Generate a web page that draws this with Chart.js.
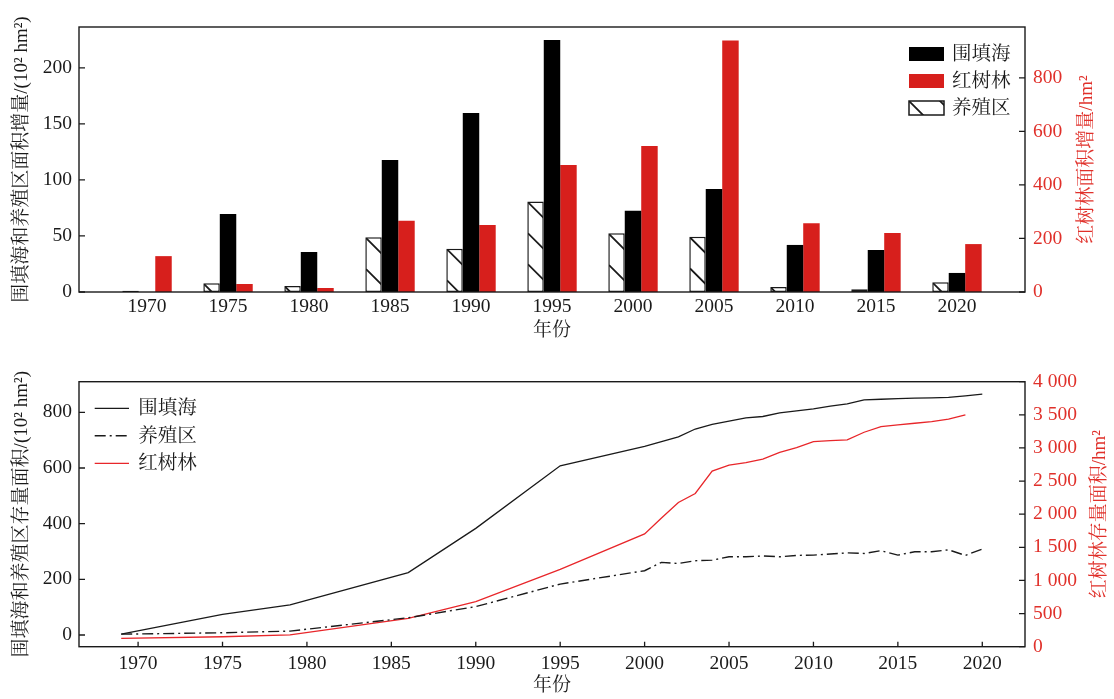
<!DOCTYPE html>
<html>
<head>
<meta charset="utf-8">
<script src="https://cdn.jsdelivr.net/npm/chart.js@4.4.1/dist/chart.umd.min.js"></script>
<style>
  html, body { margin: 0; padding: 0; background: #fff; }
  #wrap { position: relative; width: 1114px; height: 699px; }
  #gainChart { position: absolute; left: 0; top: 0; }
  #stockChart { position: absolute; left: 0; top: 345px; }
</style>
</head>
<body>
<div id="wrap">
  <canvas id="gainChart" width="1114" height="345"></canvas>
  <canvas id="stockChart" width="1114" height="354"></canvas>
</div>
<script>
// ---- 面积增量 (每五年) ----
const barYears     = [1970, 1975, 1980, 1985, 1990, 1995, 2000, 2005, 2010, 2015, 2020];
const reclaimGain  = [0, 69.6, 35.7, 117.9, 159.8, 225, 72.5, 92, 42, 37.5, 17];      // 10^2 hm2
const aquaGain     = [1.2, 7.7, 5.4, 48.8, 38.7, 80.7, 52.4, 49.4, 4.5, 2.4, 8.6];    // 10^2 hm2
const mangroveGain = [134, 30, 15, 266, 250, 474, 545, 940, 257, 220, 179];           // hm2

// ---- 存量面积 ----
const stockYears    = [1969, 1975, 1979, 1986, 1990, 1995, 2000, 2001, 2002, 2003, 2004, 2005, 2006,
                       2007, 2008, 2009, 2010, 2011, 2012, 2013, 2014, 2015, 2016, 2017, 2018, 2019, 2020];
const reclaimStock  = [3, 74, 108, 224, 383, 608, 678, 695, 712, 740, 757, 768, 780,
                       785, 798, 805, 812, 822, 830, 845, 847, 849, 851, 852, 854, 859, 865];
const aquaStock     = [3, 8, 14, 62, 102, 183, 231, 261, 257, 267, 269, 281, 281,
                       284, 281, 286, 287, 291, 295, 293, 303, 287, 299, 299, 306, 286, 309];
const mangroveYears = [1969, 1975, 1979, 1986, 1990, 1995, 2000, 2001, 2002, 2003, 2004, 2005, 2006,
                       2007, 2008, 2009, 2010, 2011, 2012, 2013, 2014, 2015, 2016, 2017, 2018, 2019];
const mangroveStock = [126, 150, 177, 429, 682, 1167, 1702, 1944, 2177, 2313, 2651, 2742, 2777,
                       2833, 2934, 3005, 3096, 3110, 3121, 3237, 3323, 3348, 3373, 3398, 3434, 3500];

// ---- 刻度 ----
const gainLeftTicks   = [0, 50, 100, 150, 200];
const gainRightTicks  = [0, 200, 400, 600, 800];
const stockYearTicks  = [1970, 1975, 1980, 1985, 1990, 1995, 2000, 2005, 2010, 2015, 2020];
const stockLeftTicks  = [0, 200, 400, 600, 800];
const stockRightTicks = [0, 500, 1000, 1500, 2000, 2500, 3000, 3500, 4000];

const FONT = "'Liberation Serif', 'Noto Serif CJK SC', 'Noto Sans CJK SC', serif";
const INK = '#1a1a1a';
const RED = '#d71f1c';
const RED_TEXT = '#e0302a';
const RED_LINE = '#e8262a';
const TICK_FONT = { family: FONT, size: 19.5 };

const pts = (xs, ys) => xs.map((x, i) => ({ x: x, y: ys[i] }));
const useTicks = values => scale => { scale.ticks = values.map(v => ({ value: v })); };
const plain = v => String(v);
const spaced = v => v >= 1000 ? Math.floor(v / 1000) + ' ' + String(v % 1000).padStart(3, '0') : String(v);

function axis(extra) {
  return Object.assign({
    grid: { display: false, drawTicks: false },
    border: { display: false }
  }, extra);
}

// frame box, inward tick marks and axis titles
const framePlugin = {
  id: 'frame',
  afterDraw(chart, args, opts) {
    const { ctx, chartArea: a } = chart;
    ctx.save();
    ctx.strokeStyle = INK;
    ctx.lineWidth = 1.4;
    ctx.strokeRect(a.left, a.top, a.right - a.left, a.bottom - a.top);
    ctx.lineWidth = 1.3;
    for (const id of Object.keys(chart.scales)) {
      const s = chart.scales[id];
      const len = (opts.tickLen || {})[id];
      if (!len) continue;
      ctx.beginPath();
      s.ticks.forEach(t => {
        const p = s.getPixelForValue(t.value);
        if (s.axis === 'x') { ctx.moveTo(p, a.bottom); ctx.lineTo(p, a.bottom - len); }
        else if (s.position === 'left') { ctx.moveTo(a.left, p); ctx.lineTo(a.left + len, p); }
        else { ctx.moveTo(a.right, p); ctx.lineTo(a.right - len, p); }
      });
      ctx.stroke();
    }
    ctx.font = '19px ' + FONT;
    ctx.textAlign = 'center';
    ctx.textBaseline = 'middle';
    const midY = (a.top + a.bottom) / 2;
    const midX = (a.left + a.right) / 2;
    (opts.titles || []).forEach(t => {
      ctx.fillStyle = t.color;
      ctx.save();
      if (t.vertical) {
        ctx.translate(t.x, midY);
        ctx.rotate(-Math.PI / 2);
        ctx.fillText(t.text, 0, 0);
      } else {
        ctx.fillText(t.text, midX, t.y);
      }
      ctx.restore();
    });
    ctx.restore();
  }
};

function drawHatch(ctx, left, top, right, bottom, step) {
  ctx.save();
  ctx.beginPath();
  ctx.rect(left, top, right - left, bottom - top);
  ctx.clip();
  ctx.strokeStyle = INK;
  ctx.lineWidth = 1.8;
  ctx.beginPath();
  const span = Math.max(right - left, bottom - top) + step;
  for (let k = -Math.ceil((right - left) / step); k * step < bottom - top; k++) {
    const y0 = top + k * step;
    ctx.moveTo(left, y0);
    ctx.lineTo(left + span, y0 + span);
  }
  ctx.stroke();
  ctx.restore();
}

// diagonal hatching inside the 养殖区 bars
const hatchPlugin = {
  id: 'hatch',
  afterDatasetsDraw(chart) {
    const { ctx } = chart;
    chart.data.datasets.forEach((ds, i) => {
      if (!ds.hatch) return;
      chart.getDatasetMeta(i).data.forEach(el => {
        const h = el.base - el.y;
        if (h < 2) return;
        const l = el.x - el.width / 2, r = el.x + el.width / 2;
        drawHatch(ctx, l + 0.75, el.y + 0.75, r - 0.75, el.base, 31);
      });
    });
  }
};

// legend for the bar panel
const barLegendPlugin = {
  id: 'barLegend',
  afterDraw(chart, args, opts) {
    const { ctx } = chart;
    ctx.save();
    ctx.font = '19.5px ' + FONT;
    ctx.textBaseline = 'middle';
    ctx.textAlign = 'left';
    opts.order.forEach((di, row) => {
      const ds = chart.data.datasets[di];
      const cy = opts.y + row * opts.dy;
      const x = opts.x, w = opts.w, h = opts.h, top = cy - h / 2;
      ctx.fillStyle = ds.backgroundColor;
      ctx.fillRect(x, top, w, h);
      if (ds.hatch) {
        drawHatch(ctx, x, top, x + w, top + h, 31);
        ctx.strokeStyle = INK;
        ctx.lineWidth = 1.5;
        ctx.strokeRect(x, top, w, h);
      }
      ctx.fillStyle = INK;
      ctx.fillText(ds.label, opts.textX, cy + 1);
    });
    ctx.restore();
  }
};

// legend for the line panel
const lineLegendPlugin = {
  id: 'lineLegend',
  afterDraw(chart, args, opts) {
    const { ctx } = chart;
    ctx.save();
    ctx.font = '19.5px ' + FONT;
    ctx.textBaseline = 'middle';
    ctx.textAlign = 'left';
    chart.data.datasets.forEach((ds, row) => {
      const cy = opts.y + row * opts.dy;
      ctx.strokeStyle = ds.borderColor;
      ctx.lineWidth = ds.borderWidth;
      ctx.setLineDash(ds.borderDash || []);
      ctx.beginPath();
      ctx.moveTo(opts.x0, cy);
      ctx.lineTo(opts.x1, cy);
      ctx.stroke();
      ctx.setLineDash([]);
      ctx.fillStyle = INK;
      ctx.fillText(ds.label, opts.textX, cy + 1);
    });
    ctx.restore();
  }
};

new Chart(document.getElementById('gainChart'), {
  type: 'bar',
  data: {
    datasets: [
      { label: '养殖区', data: pts(barYears, aquaGain), backgroundColor: '#ffffff', borderColor: INK,
        borderWidth: 1.5, borderSkipped: false, yAxisID: 'y', hatch: true },
      { label: '围填海', data: pts(barYears, reclaimGain), backgroundColor: '#000000', borderWidth: 0, yAxisID: 'y' },
      { label: '红树林', data: pts(barYears, mangroveGain), backgroundColor: RED, borderWidth: 0, yAxisID: 'y1' }
    ]
  },
  options: {
    responsive: false,
    animation: false,
    categoryPercentage: 0.61,
    barPercentage: 1,
    layout: { padding: { top: 27, left: 0, right: 0, bottom: 0 } },
    plugins: {
      legend: { display: false },
      tooltip: { enabled: false },
      frame: {
        tickLen: { y: 6, y1: 6 },
        titles: [
          { text: '围填海和养殖区面积增量/(10² hm²)', vertical: true, x: 22, color: INK },
          { text: '红树林面积增量/hm²', vertical: true, x: 1087, color: RED_TEXT },
          { text: '年份', y: 331, color: INK }
        ]
      },
      barLegend: { order: [1, 2, 0], x: 909, y: 54, dy: 27, w: 35, h: 14, textX: 952 }
    },
    scales: {
      x: axis({
        type: 'linear', min: 1965.8, max: 2024.2, offset: false,
        afterBuildTicks: useTicks(barYears),
        afterFit: s => { s.height = 53; },
        ticks: { font: TICK_FONT, color: INK, padding: 3.5, maxRotation: 0, autoSkip: false, callback: plain }
      }),
      y: axis({
        position: 'left', min: 0, max: 236.5,
        afterBuildTicks: useTicks(gainLeftTicks),
        afterFit: s => { s.width = 79; },
        ticks: { font: TICK_FONT, color: INK, padding: 7, callback: plain }
      }),
      y1: axis({
        position: 'right', min: 0, max: 990,
        afterBuildTicks: useTicks(gainRightTicks),
        afterFit: s => { s.width = 89; },
        ticks: { font: TICK_FONT, color: RED_TEXT, padding: 8, callback: plain }
      })
    }
  },
  plugins: [hatchPlugin, framePlugin, barLegendPlugin]
});

new Chart(document.getElementById('stockChart'), {
  type: 'line',
  data: {
    datasets: [
      { label: '围填海', data: pts(stockYears, reclaimStock), borderColor: INK, borderWidth: 1.3, yAxisID: 'y' },
      { label: '养殖区', data: pts(stockYears, aquaStock), borderColor: INK, borderWidth: 1.4,
        borderDash: [11, 4, 2, 4], yAxisID: 'y' },
      { label: '红树林', data: pts(mangroveYears, mangroveStock), borderColor: RED_LINE, borderWidth: 1.3, yAxisID: 'y1' }
    ]
  },
  options: {
    responsive: false,
    animation: false,
    elements: { point: { radius: 0 }, line: { tension: 0, fill: false } },
    layout: { padding: { top: 36.7, left: 0, right: 0, bottom: 0 } },
    plugins: {
      legend: { display: false },
      tooltip: { enabled: false },
      frame: {
        tickLen: { x: 5, y: 6, y1: 6 },
        titles: [
          { text: '围填海和养殖区存量面积/(10² hm²)', vertical: true, x: 22, color: INK },
          { text: '红树林存量面积/hm²', vertical: true, x: 1100, color: RED_TEXT },
          { text: '年份', y: 341.5, color: INK }
        ]
      },
      lineLegend: { x0: 94.7, x1: 129, textX: 138.3, y: 63.3, dy: 27.5 }
    },
    scales: {
      x: axis({
        type: 'linear', min: 1966.5, max: 2022.53,
        afterBuildTicks: useTicks(stockYearTicks),
        afterFit: s => { s.height = 52.3; },
        ticks: { font: TICK_FONT, color: INK, padding: 5.5, maxRotation: 0, autoSkip: false, callback: plain }
      }),
      y: axis({
        position: 'left', min: -42, max: 910,
        afterBuildTicks: useTicks(stockLeftTicks),
        afterFit: s => { s.width = 79; },
        ticks: { font: TICK_FONT, color: INK, padding: 7, callback: plain }
      }),
      y1: axis({
        position: 'right', min: 0, max: 4000,
        afterBuildTicks: useTicks(stockRightTicks),
        afterFit: s => { s.width = 89; },
        ticks: { font: TICK_FONT, color: RED_TEXT, padding: 8, callback: spaced }
      })
    }
  },
  plugins: [framePlugin, lineLegendPlugin]
});
</script>
</body>
</html>
